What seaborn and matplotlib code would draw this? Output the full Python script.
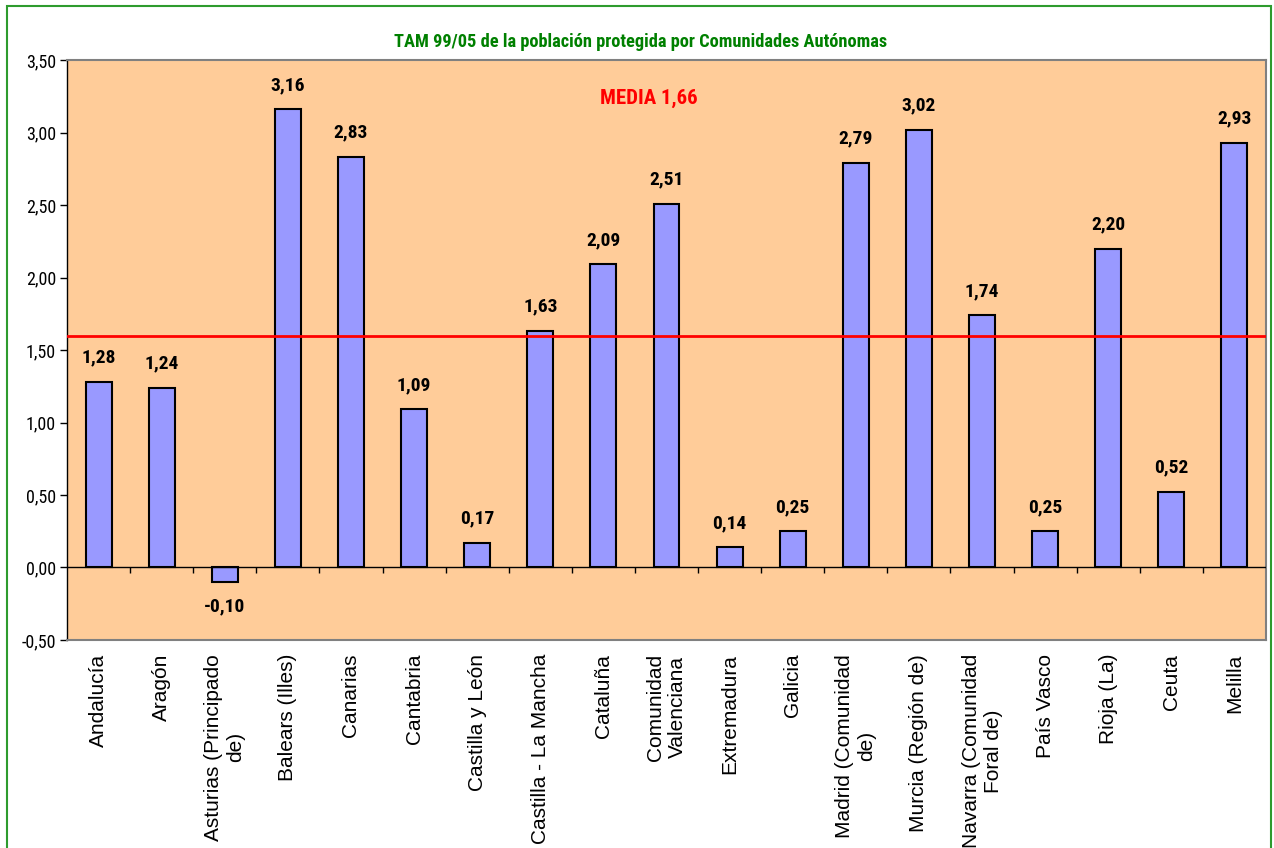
import matplotlib
matplotlib.use("Agg")
import matplotlib.pyplot as plt
import matplotlib.patches as mpatches
from matplotlib import font_manager as fm
import seaborn as sns
import pandas as pd
import numpy as np

categories = ["Andalucía", "Aragón", "Asturias (Principado\nde)", "Balears (Illes)", "Canarias",
              "Cantabria", "Castilla y León", "Castilla - La Mancha", "Cataluña",
              "Comunidad\nValenciana", "Extremadura", "Galicia", "Madrid (Comunidad\nde)",
              "Murcia (Región de)", "Navarra (Comunidad\nForal de)", "País Vasco", "Rioja (La)",
              "Ceuta", "Melilla"]
values = [1.28, 1.24, -0.10, 3.16, 2.83, 1.09, 0.17, 1.63, 2.09, 2.51, 0.14, 0.25, 2.79,
          3.02, 1.74, 0.25, 2.20, 0.52, 2.93]
media_value = 1.60
media_label = "MEDIA 1,66"
title = "TAM 99/05 de la población protegida por Comunidades Autónomas"
yticks = [-0.5, 0.0, 0.5, 1.0, 1.5, 2.0, 2.5, 3.0, 3.5]

sns.set_style("white")
available = {f.name for f in fm.fontManager.ttflist}
narrow_choice = None
for cand in ["Liberation Sans Narrow", "Arial Narrow", "Roboto Condensed", "Open Sans Condensed",
             "DejaVu Sans Condensed", "Liberation Sans"]:
    if cand in available:
        narrow_choice = cand
        break
narrow = [narrow_choice or "Liberation Sans", "DejaVu Sans"]
is_narrow = narrow_choice not in (None, "Liberation Sans")
plt.rcParams["font.family"] = ["Liberation Sans", "DejaVu Sans"]
plt.rcParams["text.color"] = "black"
plt.rcParams["xtick.color"] = "black"
plt.rcParams["ytick.color"] = "black"

df = pd.DataFrame({"cat": categories, "val": values})

fig = plt.figure(figsize=(12.74, 8.48), dpi=100)
ax = fig.add_axes([0.0526, 0.2453, 0.9411, 0.6839])
ax.set_facecolor("#FFCC99")

sns.barplot(data=df, x="cat", y="val", order=categories, color="#9999FF",
            saturation=1, width=0.41, edgecolor="black", linewidth=1.5, ax=ax, zorder=3)

lbl_size = 14 if is_narrow else 12
ax.set_ylim(-0.5, 3.5)
ax.set_xlim(-0.5, len(categories) - 0.5)
ax.set_yticks(yticks)
ax.set_yticklabels([f"{t:.2f}".replace(".", ",") for t in yticks],
                   family=narrow, fontsize=13 if is_narrow else 11, color="black")
ax.set_xticks(range(len(categories)))
ax.set_xticklabels(categories, rotation=90, fontsize=15, va="top", ha="center",
                   multialignment="center", color="black")
ax.tick_params(axis="x", length=0, pad=10)
ax.tick_params(axis="y", length=5, width=1, color="black", direction="out", left=True, pad=3)
ax.set_xlabel("")
ax.set_ylabel("")

for side in ["top", "right", "bottom"]:
    ax.spines[side].set_color("#808080")
    ax.spines[side].set_linewidth(1.5)
ax.spines["left"].set_color("black")
ax.spines["left"].set_linewidth(1)

# zero line with category boundary ticks
ax.axhline(0, color="black", lw=1, zorder=4)
ax.vlines(np.arange(0.5, len(categories) - 0.5), -0.035, 0, color="black", lw=1, zorder=4)

# media line
ax.axhline(media_value, color="red", lw=2, zorder=5)
ax.text(0.485, 0.933, media_label, transform=ax.transAxes, color="red",
        fontsize=15 if is_narrow else 13, fontweight="bold", family=narrow,
        ha="center", va="center")

# value labels
for i, v in enumerate(values):
    lbl = f"{v:.2f}".replace(".", ",")
    if v >= 0:
        ax.annotate(lbl, (i, v), xytext=(0, 11), textcoords="offset points",
                    ha="center", va="bottom", fontsize=lbl_size, fontweight="bold",
                    family=narrow, color="black")
    else:
        ax.annotate(lbl, (i, v), xytext=(0, -11), textcoords="offset points",
                    ha="center", va="top", fontsize=lbl_size, fontweight="bold",
                    family=narrow, color="black")

fig.text(0.503, 0.950, title, color="#008000", fontsize=13.2 if is_narrow else 11,
         fontweight="bold", family=narrow, ha="center", va="center")

border = mpatches.Rectangle((0.0055, -0.05), 0.9925, 1.05 - 0.0071, transform=fig.transFigure,
                            fill=False, edgecolor="#2E9B2E", lw=1.5)
fig.patches.append(border)

fig.savefig("out.png", dpi=100, facecolor="white")
